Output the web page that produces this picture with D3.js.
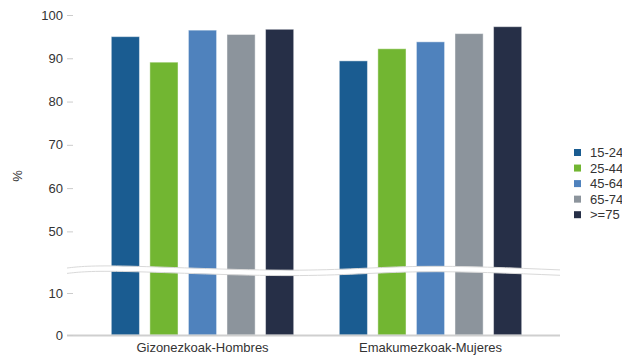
<!DOCTYPE html>
<html>
<head>
<meta charset="utf-8">
<script src="https://cdn.jsdelivr.net/npm/d3@7/dist/d3.min.js"></script>
<style>
  html, body { margin: 0; padding: 0; background: #fff; }
  svg text { font-family: "Liberation Sans", Arial, sans-serif; fill: #333; }
</style>
</head>
<body>
<svg id="chart" width="622" height="360"></svg>
<script>
// Groups, age bands and percentages
const groups = ["Gizonezkoak-Hombres", "Emakumezkoak-Mujeres"];
const ageBands = ["15-24", "25-44", "45-64", "65-74", ">=75"];
const hombres = [95.0, 89.1, 96.5, 95.5, 96.7];
const mujeres = [89.4, 92.2, 93.8, 95.7, 97.3];
const yTicks = [0, 10, 50, 60, 70, 80, 90, 100];
const colors = ["#1a5c91", "#72b632", "#4f82bd", "#8c949c", "#262f47"];

const seriesByGroup = [hombres, mujeres];

const svg = d3.select("#chart");

// Broken value axis: 0–15 below the break, 42–100 above it
const y = d3.scaleLinear()
  .domain([0, 15, 42, 100])
  .range([335, 272, 266, 15]);

const x0 = d3.scaleBand()
  .domain(groups)
  .range([88.5, 544.5])
  .paddingInner(0.2)
  .paddingOuter(0.1);

const x1 = d3.scaleBand()
  .domain(ageBands)
  .range([0, x0.bandwidth()])
  .paddingInner(0.27);

const color = d3.scaleOrdinal().domain(ageBands).range(colors);

// Bars
const g = svg.append("g");
groups.forEach((grp, gi) => {
  g.selectAll(null)
    .data(ageBands.map((a, i) => ({ age: a, value: seriesByGroup[gi][i] })))
    .enter().append("rect")
    .attr("x", d => x0(grp) + x1(d.age))
    .attr("y", d => y(d.value))
    .attr("width", x1.bandwidth())
    .attr("height", d => y(0) - y(d.value))
    .attr("fill", d => color(d.age))
    .attr("stroke", "#fff")
    .attr("stroke-opacity", 0.45)
    .attr("stroke-width", 1);
});

// Axis break band drawn across the bars
const waveTop = [[67, 268.0], [130, 266.2], [290, 270.2], [420, 266.4], [560, 269.9]];
const waveBottom = waveTop.map(([px, py]) => [px, py + 5.4]);
const waveLine = d3.line().curve(d3.curveNatural);
const bandArea = d3.area()
  .curve(d3.curveNatural)
  .x(d => d[0]).y0(d => d[1]).y1((d, i) => waveBottom[i][1]);
svg.append("path")
  .attr("d", bandArea(waveTop))
  .attr("fill", "#fff");
svg.append("path")
  .attr("d", waveLine(waveTop))
  .attr("fill", "none").attr("stroke", "#d9d9d9").attr("stroke-width", 1);
svg.append("path")
  .attr("d", waveLine(waveBottom))
  .attr("fill", "none").attr("stroke", "#d9d9d9").attr("stroke-width", 1);

// Baseline
svg.append("line")
  .attr("x1", 67).attr("x2", 560)
  .attr("y1", y(0) + 0.5).attr("y2", y(0) + 0.5)
  .attr("stroke", "#cfcfcf").attr("stroke-width", 2);

// Y axis
const yAxis = d3.axisLeft(y)
  .tickValues(yTicks)
  .tickSize(6)
  .tickPadding(4)
  .tickFormat(d3.format("d"));
const ya = svg.append("g")
  .attr("transform", "translate(73,0)")
  .call(yAxis);
ya.select(".domain").remove();
ya.selectAll(".tick line").attr("stroke", "#ccc");
ya.selectAll(".tick text")
  .attr("font-size", 13)
  .style("font-family", "'Liberation Sans', Arial, sans-serif")
  .attr("fill", "#333");

svg.append("text")
  .attr("transform", "translate(22,176) rotate(-90)")
  .attr("text-anchor", "middle")
  .attr("font-size", 13)
  .text("%");

// Category labels
const xAxis = d3.axisBottom(x0).tickSize(0).tickPadding(0);
const xa = svg.append("g")
  .attr("transform", "translate(0,343)")
  .call(xAxis);
xa.select(".domain").remove();
xa.selectAll(".tick text")
  .attr("font-size", 13)
  .attr("dy", "0.71em")
  .style("font-family", "'Liberation Sans', Arial, sans-serif")
  .attr("fill", "#333");

// Legend
const legend = svg.append("g").attr("transform", "translate(574,149)");
const items = legend.selectAll("g")
  .data(ageBands)
  .enter().append("g")
  .attr("transform", (d, i) => `translate(0,${i * 15.55})`);
items.append("rect")
  .attr("width", 7).attr("height", 7)
  .attr("fill", d => color(d));
items.append("text")
  .attr("x", 16).attr("y", 3.5).attr("dy", "0.35em")
  .attr("font-size", 13)
  .text(d => d);
</script>
</body>
</html>
